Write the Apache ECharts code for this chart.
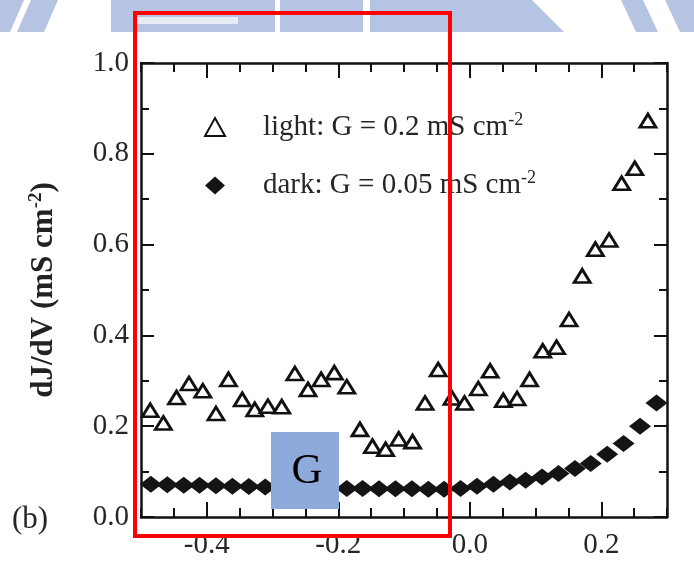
<!DOCTYPE html>
<html>
<head>
<meta charset="utf-8">
<script src="https://cdn.jsdelivr.net/npm/echarts@6/dist/echarts.min.js"></script>
<style>
  html, body { margin: 0; padding: 0; background: #ffffff; }
  #chart { width: 694px; height: 562px; }
</style>
</head>
<body>
<div id="chart"></div>
<script>
// Bias voltage (V) and differential conductance dJ/dV (mS cm^-2)
const lightV = [-0.486, -0.466, -0.446, -0.427, -0.406, -0.386, -0.367, -0.346, -0.327, -0.307,
                -0.286, -0.266, -0.246, -0.226, -0.206, -0.187, -0.167, -0.148, -0.128, -0.108,
                -0.087, -0.068, -0.048, -0.027, -0.008, 0.013, 0.031, 0.051, 0.072, 0.091,
                0.111, 0.132, 0.151, 0.171, 0.191, 0.212, 0.231, 0.251, 0.271];
const lightDJ = [0.235, 0.207, 0.263, 0.294, 0.278, 0.228, 0.303, 0.259, 0.237, 0.244,
                 0.243, 0.316, 0.281, 0.303, 0.318, 0.287, 0.193, 0.156, 0.149, 0.172,
                 0.166, 0.251, 0.325, 0.262, 0.251, 0.283, 0.322, 0.257, 0.261, 0.303,
                 0.366, 0.374, 0.435, 0.531, 0.590, 0.610, 0.735, 0.768, 0.873];

const darkV = [-0.485, -0.460, -0.435, -0.411, -0.386, -0.361, -0.336, -0.311, -0.287, -0.262,
               -0.237, -0.212, -0.187, -0.163, -0.138, -0.113, -0.088, -0.063, -0.039, -0.014,
               0.011, 0.036, 0.061, 0.085, 0.110, 0.135, 0.160, 0.184, 0.209, 0.234,
               0.259, 0.284];
const darkDJ = [0.072, 0.071, 0.070, 0.070, 0.069, 0.068, 0.067, 0.066, 0.066, 0.065,
                0.064, 0.064, 0.063, 0.063, 0.062, 0.062, 0.062, 0.061, 0.061, 0.063,
                0.068, 0.072, 0.077, 0.081, 0.088, 0.096, 0.107, 0.118, 0.138, 0.162,
                0.200, 0.251];

// Labelled (long) ticks on the voltage axis
const xMajorTicks = [-0.4, -0.2, 0.0, 0.2];

const serif = '"Liberation Serif", "Times New Roman", serif';
const ink = '#111111';
const labelInk = '#262626';

const zip = (a, b) => a.map((v, i) => [v, b[i]]);

const xBase = {
  type: 'value', min: -0.5, max: 0.3, interval: 0.05,
  splitLine: { show: false }
};
const yBase = {
  type: 'value', min: 0, max: 1.0, interval: 0.2,
  splitLine: { show: false }, minorSplitLine: { show: false }
};

const chart = echarts.init(document.getElementById('chart'), null, { renderer: 'canvas' });

chart.setOption({
  animation: false,
  backgroundColor: '#ffffff',
  grid: { left: 141, right: 27, top: 63, bottom: 45, containLabel: false },
  xAxis: [
    Object.assign({}, xBase, {
      position: 'bottom',
      axisLine: { show: true, onZero: false, lineStyle: { color: ink, width: 2.5 } },
      axisTick: { show: true, inside: true, length: 9, lineStyle: { color: ink, width: 2 } },
      axisLabel: {
        show: true, customValues: xMajorTicks, margin: 14,
        fontFamily: serif, fontSize: 29, color: labelInk,
        formatter: v => v.toFixed(1)
      }
    }),
    Object.assign({}, xBase, {
      position: 'bottom',
      axisLine: { show: false, onZero: false },
      axisTick: { show: true, inside: true, length: 15, customValues: xMajorTicks, lineStyle: { color: ink, width: 2 } },
      axisLabel: { show: false }
    }),
    Object.assign({}, xBase, {
      position: 'top',
      axisLine: { show: true, onZero: false, lineStyle: { color: ink, width: 2.5 } },
      axisTick: { show: true, inside: true, length: 9, lineStyle: { color: ink, width: 2 } },
      axisLabel: { show: false }
    }),
    Object.assign({}, xBase, {
      position: 'top',
      axisLine: { show: false, onZero: false },
      axisTick: { show: true, inside: true, length: 15, customValues: xMajorTicks, lineStyle: { color: ink, width: 2 } },
      axisLabel: { show: false }
    })
  ],
  yAxis: [
    Object.assign({}, yBase, {
      position: 'left',
      axisLine: { show: true, onZero: false, lineStyle: { color: ink, width: 2.5 } },
      axisTick: { show: true, inside: true, length: 13, lineStyle: { color: ink, width: 2 } },
      minorTick: { show: true, splitNumber: 2, length: 8, lineStyle: { color: ink, width: 2 } },
      axisLabel: {
        show: true, margin: 12, fontFamily: serif, fontSize: 29, color: labelInk,
        formatter: v => v.toFixed(1)
      },
      name: 'dJ/dV (mS cm{s|-2})',
      nameLocation: 'middle',
      nameGap: 80,
      nameTextStyle: {
        fontFamily: serif, fontSize: 31, fontWeight: 'bold', color: '#222222',
        rich: {
          s: { fontFamily: serif, fontSize: 19, fontWeight: 'bold', color: '#222222', padding: [0, 0, 15, 0] }
        }
      }
    }),
    Object.assign({}, yBase, {
      position: 'right',
      axisLine: { show: true, onZero: false, lineStyle: { color: ink, width: 2.5 } },
      axisTick: { show: true, inside: true, length: 13, lineStyle: { color: ink, width: 2 } },
      minorTick: { show: true, splitNumber: 2, length: 8, lineStyle: { color: ink, width: 2 } },
      axisLabel: { show: false }
    })
  ],
  legend: {
    orient: 'vertical',
    left: 199,
    top: 106,
    itemWidth: 20,
    itemHeight: 18,
    itemGap: 28,
    data: [
      { name: 'light', icon: 'triangle' },
      { name: 'dark', icon: 'diamond' }
    ],
    formatter: name => name === 'light'
      ? '{a|light: G = 0.2 mS cm}{s|-2}'
      : '{a|dark: G = 0.05 mS cm}{s|-2}',
    textStyle: {
      rich: {
        a: { fontFamily: serif, fontSize: 29, color: labelInk, padding: [0, 0, 0, 33], lineHeight: 30 },
        s: { fontFamily: serif, fontSize: 18, color: labelInk, padding: [0, 0, 14, 0] }
      }
    }
  },
  series: [
    {
      name: 'dark',
      type: 'scatter',
      xAxisIndex: 0, yAxisIndex: 0,
      symbol: 'diamond',
      symbolSize: [22, 17],
      itemStyle: { color: '#141414', opacity: 1 },
      data: zip(darkV, darkDJ),
      z: 3
    },
    {
      name: 'light',
      type: 'scatter',
      xAxisIndex: 0, yAxisIndex: 0,
      symbol: 'triangle',
      symbolSize: [16, 13],
      itemStyle: { color: '#ffffff', borderColor: '#111111', borderWidth: 2.8, opacity: 1 },
      data: zip(lightV, lightDJ),
      z: 4
    }
  ],
  graphic: [
    // faded banner shapes along the top edge
    { type: 'polygon', z: 50, shape: { points: [[0, 0], [24, 0], [10, 32], [0, 32]] }, style: { fill: '#b6c4e4' } },
    { type: 'polygon', z: 50, shape: { points: [[31, 0], [58, 0], [44, 32], [17, 32]] }, style: { fill: '#b6c4e4' } },
    { type: 'rect', z: 50, shape: { x: 111, y: 0, width: 164, height: 32 }, style: { fill: '#b6c4e4' } },
    { type: 'rect', z: 51, shape: { x: 136, y: 17, width: 102, height: 7 }, style: { fill: '#e6ebf6' } },
    { type: 'rect', z: 50, shape: { x: 280, y: 0, width: 83, height: 32 }, style: { fill: '#b6c4e4' } },
    { type: 'polygon', z: 50, shape: { points: [[370, 0], [532, 0], [564, 32], [370, 32]] }, style: { fill: '#b6c4e4' } },
    { type: 'polygon', z: 50, shape: { points: [[621, 0], [643, 0], [658, 32], [636, 32]] }, style: { fill: '#b6c4e4' } },
    { type: 'polygon', z: 50, shape: { points: [[665, 0], [694, 0], [694, 32], [680, 32]] }, style: { fill: '#b6c4e4' } },

    // highlighted region
    { type: 'rect', z: 60, shape: { x: 135, y: 13, width: 315, height: 523 },
      style: { fill: 'none', stroke: '#ff0000', lineWidth: 4 } },

    // conductance tag
    { type: 'rect', z: 70, shape: { x: 271, y: 432, width: 68, height: 77 }, style: { fill: '#8eaadb' } },
    { type: 'text', z: 71, x: 307, y: 472,
      style: { text: 'G', fontFamily: serif, fontSize: 43, fill: '#000000', align: 'center', verticalAlign: 'middle' } },

    // panel letter
    { type: 'text', z: 60, x: 12, y: 520,
      style: { text: '(b)', fontFamily: serif, fontSize: 31, fill: labelInk, align: 'left', verticalAlign: 'middle' } }
  ]
});
</script>
</body>
</html>
